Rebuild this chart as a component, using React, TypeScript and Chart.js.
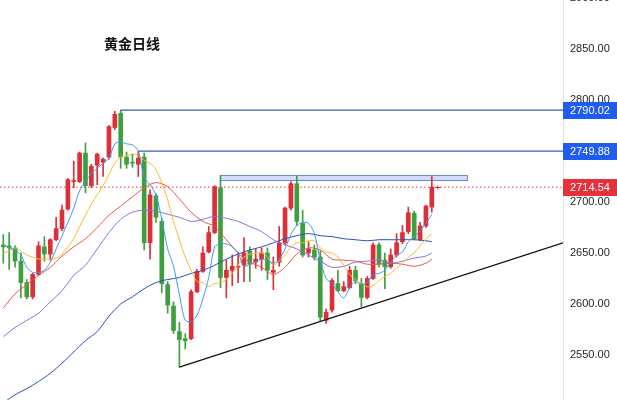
import { useEffect, useRef } from "react";
import { Chart, registerables } from "chart.js";

Chart.register(...registerables);

// ---- data ----
const opens = [2658, 2657, 2655, 2642, 2621, 2607, 2629, 2656, 2649, 2663,
  2674, 2693, 2720, 2720, 2748, 2716, 2736, 2739, 2744, 2773,
  2787, 2744, 2739, 2737, 2744, 2660, 2706, 2681, 2619, 2598,
  2573, 2566, 2566, 2612, 2632, 2651, 2670, 2714, 2626, 2633,
  2636, 2638, 2652, 2641, 2644, 2650, 2631, 2641, 2660, 2694,
  2718, 2679, 2650, 2653, 2646, 2584, 2594, 2620, 2613, 2616,
  2633, 2620, 2606.5, 2625, 2658, 2643, 2636.5, 2648, 2661, 2671,
  2689, 2663, 2676.5, 2695];
const highs = [2668, 2670, 2657, 2650, 2624, 2630, 2661, 2666, 2664, 2685,
  2697, 2723, 2740, 2749, 2758, 2737, 2748, 2743, 2775, 2789,
  2790.02, 2749, 2747, 2749.88, 2748, 2712, 2708, 2684, 2622, 2602,
  2582, 2571, 2614, 2634, 2656, 2676, 2716, 2726, 2643, 2648,
  2651, 2665, 2656, 2654, 2655, 2655, 2646, 2676, 2695, 2720,
  2726, 2692, 2661, 2658, 2652, 2595, 2625, 2633, 2622, 2637,
  2637, 2625, 2627, 2660, 2660, 2650, 2654, 2669, 2677, 2695,
  2691, 2680, 2697, 2725];
const lows = [2640, 2634, 2636, 2606, 2605, 2605, 2628, 2642, 2643, 2662,
  2672, 2692, 2714, 2719, 2709, 2714, 2717, 2725, 2742, 2771,
  2733, 2733, 2734, 2725, 2653, 2644, 2680, 2611, 2591, 2571,
  2538, 2556, 2565, 2611, 2631, 2650, 2669, 2616, 2606, 2618,
  2621, 2622, 2622, 2635, 2633, 2624, 2614, 2637, 2658, 2692,
  2677, 2646, 2646, 2643, 2583, 2581, 2592, 2612, 2612, 2615,
  2620, 2597, 2605, 2624, 2636, 2615, 2635, 2646, 2659, 2669,
  2663, 2662, 2675, 2690];
const closes = [2656, 2655, 2642, 2621, 2607, 2629, 2657, 2649, 2663, 2674,
  2692, 2722, 2721, 2748, 2716, 2735, 2747, 2742, 2774, 2786,
  2744, 2737, 2738, 2743, 2660, 2707, 2685, 2620, 2599, 2574,
  2565, 2564, 2612, 2632, 2650, 2670, 2715, 2626, 2633, 2637,
  2637, 2650, 2639, 2644, 2650, 2633, 2633, 2660, 2694, 2718,
  2681, 2648, 2654, 2646, 2587, 2592, 2623, 2613, 2617, 2633,
  2623, 2606.5, 2625, 2658, 2639, 2636.5, 2648, 2660, 2670, 2689.5,
  2664, 2676.5, 2696, 2714.54];

const ma5 = [2658, 2655, 2653, 2648, 2636, 2631, 2631, 2633, 2641, 2654,
  2667, 2680, 2694, 2711, 2720, 2728, 2733, 2738, 2743, 2757,
  2759, 2757, 2756, 2750, 2724, 2717, 2707, 2683, 2654, 2637,
  2609, 2584, 2583, 2589, 2605, 2626, 2656, 2659, 2659, 2656,
  2650, 2637, 2639, 2641, 2644, 2643, 2640, 2644, 2654, 2668,
  2677, 2680, 2679, 2669, 2643, 2625, 2620, 2612, 2606, 2616,
  2622, 2619, 2621, 2629, 2630, 2633, 2641, 2648, 2651, 2661,
  2666, 2672, 2679, 2688];
const ma10 = [2650, 2652, 2655, 2652, 2648, 2646, 2644, 2644, 2644, 2645,
  2649, 2656, 2664, 2676, 2687, 2698, 2707, 2716, 2727, 2738,
  2744, 2745, 2747, 2746, 2741, 2738, 2732, 2719, 2702, 2681,
  2663, 2646, 2633, 2622, 2621, 2617, 2620, 2621, 2624, 2630,
  2638, 2646, 2649, 2650, 2650, 2646, 2638, 2642, 2648, 2656,
  2660, 2660, 2662, 2662, 2655, 2651, 2650, 2646, 2638, 2629,
  2624, 2620, 2617, 2618, 2623, 2627, 2630, 2635, 2640, 2646,
  2650, 2657, 2664, 2669];
const slowIdx = [0, 2, 4, 6, 8, 10, 12, 14, 16, 18, 20, 22, 24, 26, 28, 30, 32, 34, 36,
  38, 40, 42, 44, 46, 48, 50, 52, 54, 56, 58, 60, 62, 64, 66, 68, 70, 72, 73];
const ma20 = [2596, 2610, 2619, 2628, 2636, 2647, 2656, 2664, 2675, 2687, 2696, 2705, 2714,
  2719, 2715, 2703, 2690, 2681, 2676, 2663, 2650, 2641, 2636, 2629, 2636, 2649, 2655,
  2653, 2644, 2643, 2642, 2639, 2639, 2640, 2639, 2637, 2640, 2644];
const ma30 = [2568, 2577, 2584, 2591, 2602, 2613, 2628, 2638, 2654, 2670, 2683, 2690, 2692,
  2691, 2688, 2685, 2681, 2683, 2686, 2684, 2681, 2676, 2671, 2663, 2658, 2654, 2648,
  2642, 2636, 2637, 2641, 2642, 2643, 2640, 2642, 2645, 2647, 2650];
const ma60 = [2503, 2511, 2517, 2524, 2532, 2542, 2553, 2564, 2573, 2588, 2600, 2607, 2615,
  2621, 2624, 2626, 2630, 2633, 2638, 2644, 2649, 2653, 2656, 2660, 2664, 2667, 2669,
  2667, 2666, 2664, 2663, 2662, 2663, 2663, 2663, 2663, 2662, 2661];

const yTicks = [2550, 2600, 2650, 2700, 2750, 2800, 2850, 2900];
const levelValues = [2790.02, 2749.88];
const levelStarts = [20, 23];
const lastPrice = 2714.54;
const zoneLow = 2721.2;
const zoneHigh = 2726.5;
const zoneFrom = 37;
const zoneTo = 79;
const trendFrom = { x: 30, y: 2538 };
const trendTo = { x: 95.35, y: 2660 };

const X_MIN = -0.562;
const X_MAX = 95.35;
const UP = "#dc2f3a";
const DOWN = "#3f9f3f";
const LEVEL_BLUE = "#2f5fb8";
const TAG_BLUE = "#1f5cf2";
const TAG_RED = "#e8303c";

export default function App() {
  const ref = useRef<HTMLCanvasElement | null>(null);

  useEffect(() => {
    document.body.style.overflow = "hidden";
    const canvas = ref.current;
    if (!canvas) return;

    const colors = opens.map((o, i) => (closes[i] >= o ? UP : DOWN));

    const overlay = {
      id: "overlay",
      beforeDatasetsDraw(chart: any) {
        const { ctx, scales } = chart;
        const xs = scales.x, ys = scales.y;
        const x1 = xs.getPixelForValue(zoneFrom);
        const x2 = xs.getPixelForValue(zoneTo);
        const y1 = ys.getPixelForValue(zoneHigh);
        const y2 = ys.getPixelForValue(zoneLow);
        ctx.save();
        ctx.fillStyle = "rgba(178,196,242,0.6)";
        ctx.fillRect(x1, y1, x2 - x1, y2 - y1);
        ctx.strokeStyle = "#6d8ad8";
        ctx.lineWidth = 1;
        ctx.strokeRect(Math.round(x1) + 0.5, Math.round(y1) + 0.5, Math.round(x2 - x1), Math.round(y2 - y1));
        ctx.restore();
      },
      afterDraw(chart: any) {
        const { ctx, scales, chartArea, width } = chart;
        const ys = scales.y, xs = scales.x;
        const tag = (v: number, bg: string) => {
          const y = ys.getPixelForValue(v);
          ctx.fillStyle = bg;
          ctx.fillRect(chartArea.right, Math.round(y - 8.5), width - chartArea.right, 17);
          ctx.fillStyle = "#ffffff";
          ctx.font = "11px 'Liberation Sans', Arial, sans-serif";
          ctx.textAlign = "center";
          ctx.textBaseline = "middle";
          ctx.fillText(v.toFixed(2), chartArea.right + 27, y + 0.5);
        };
        ctx.save();
        levelValues.forEach((v) => tag(v, TAG_BLUE));
        tag(lastPrice, TAG_RED);
        // small current-price marker
        const mx = xs.getPixelForValue(closes.length - 1) + 6;
        const my = Math.round(ys.getPixelForValue(lastPrice)) + 0.5;
        ctx.strokeStyle = TAG_RED;
        ctx.lineWidth = 1;
        ctx.beginPath();
        ctx.moveTo(mx - 3, my);
        ctx.lineTo(mx + 3, my);
        ctx.moveTo(mx, my - 2);
        ctx.lineTo(mx, my + 2);
        ctx.stroke();
        ctx.restore();
      },
    };

    const line = (data: any[], color: string, width = 1, extra: any = {}) => ({
      type: "line" as const,
      data,
      borderColor: color,
      borderWidth: width,
      pointRadius: 0,
      fill: false,
      tension: 0.3,
      order: 0,
      ...extra,
    });

    const chart = new Chart(canvas, {
      type: "bar",
      data: {
        datasets: [
          line(ma5.map((y, i) => ({ x: i, y })), "#3d9ce6", 1),
          line(ma10.map((y, i) => ({ x: i, y })), "#f3be2c", 1),
          line(slowIdx.map((x, k) => ({ x, y: ma20[k] })), "#e2574c", 1),
          line(slowIdx.map((x, k) => ({ x, y: ma30[k] })), "#8c70dc", 1),
          line(slowIdx.map((x, k) => ({ x, y: ma60[k] })), "#2550b8", 1),
          line([trendFrom, trendTo], "#111111", 1.3, { tension: 0, order: 1 }),
          ...levelValues.map((v, k) =>
            line([{ x: levelStarts[k], y: v }, { x: X_MAX, y: v }], LEVEL_BLUE, 1.2, { tension: 0, order: 1 })
          ),
          line([{ x: X_MIN, y: lastPrice }, { x: X_MAX, y: lastPrice }], TAG_RED, 1, {
            tension: 0,
            order: 1,
            borderDash: [1.5, 2.5],
          }),
          {
            type: "bar" as const,
            data: opens.map((o, i) => ({ x: i, y: [o, closes[i]] })) as any,
            backgroundColor: colors,
            borderWidth: 0,
            barThickness: 4,
            maxBarThickness: 4,
            grouped: false,
            minBarLength: 1,
            order: 2,
          },
          {
            type: "bar" as const,
            data: lows.map((l, i) => ({ x: i, y: [l, highs[i]] })) as any,
            backgroundColor: colors,
            borderWidth: 0,
            barThickness: 1,
            maxBarThickness: 1,
            grouped: false,
            order: 3,
          },
        ] as any,
      },
      options: {
        animation: false,
        responsive: true,
        maintainAspectRatio: false,
        layout: { padding: 0 },
        plugins: { legend: { display: false }, tooltip: { enabled: false } },
        events: [],
        scales: {
          x: {
            type: "linear",
            display: false,
            min: X_MIN,
            max: X_MAX,
            offset: false,
            grid: { display: false },
          },
          y: {
            type: "linear",
            position: "right",
            min: 2505.88,
            max: 2917.65,
            grid: { display: false, drawTicks: false },
            border: { display: true, color: "#e4e4e4" },
            afterBuildTicks: (scale: any) => {
              scale.ticks = yTicks.map((v) => ({ value: v }));
            },
            afterFit: (scale: any) => {
              scale.width = 54;
              scale.paddingTop = 0;
              scale.paddingBottom = 0;
            },
            ticks: {
              padding: 7,
              color: "#1e1e1e",
              font: { family: "'Liberation Sans', Arial, sans-serif", size: 11 },
              autoSkip: false,
              callback: (v: any) => Number(v).toFixed(2),
            },
          },
        },
      } as any,
      plugins: [overlay],
    });

    return () => chart.destroy();
  }, []);

  return (
    <div>
      <div style={{ position: "fixed", left: 0, top: -20, width: 617, height: 420 }}>
        <canvas ref={ref} />
      </div>
      <div
        style={{
          position: "fixed",
          left: 104,
          top: 36,
          fontFamily: "'Noto Sans CJK SC', sans-serif",
          fontWeight: 700,
          fontSize: 14,
          lineHeight: "14px",
          color: "#111",
          whiteSpace: "nowrap",
        }}
      >
        黄金日线
      </div>
    </div>
  );
}
